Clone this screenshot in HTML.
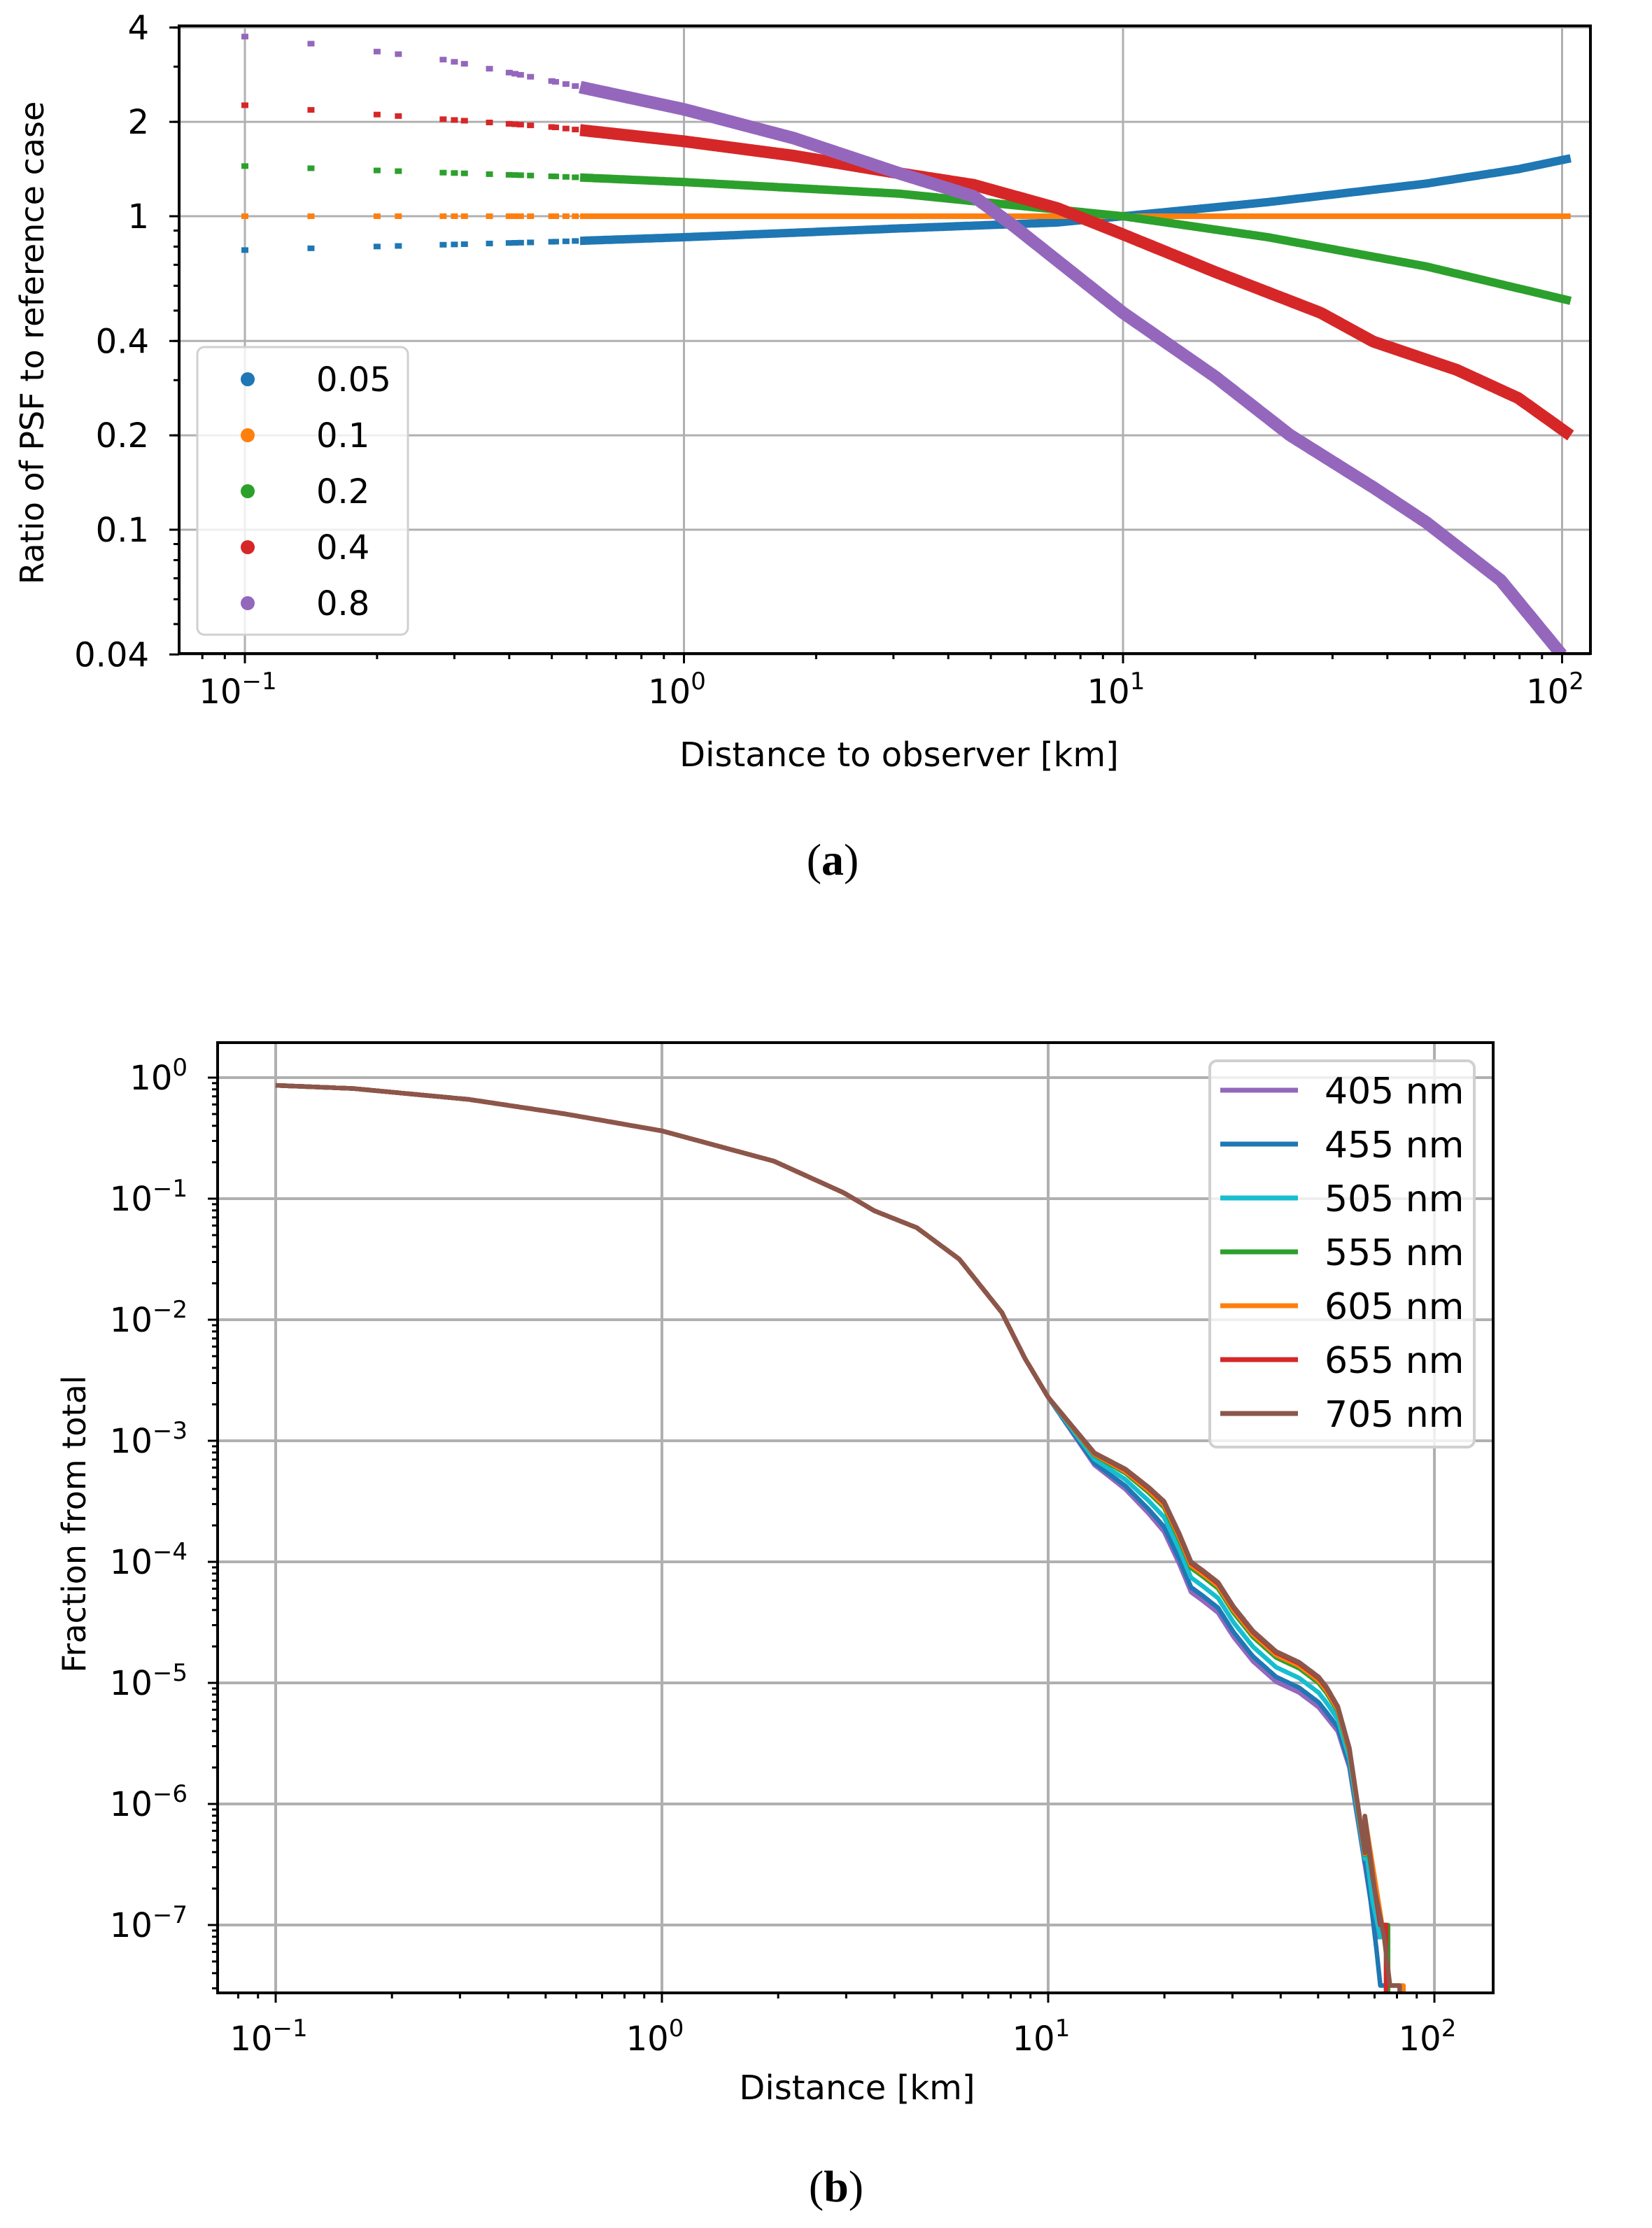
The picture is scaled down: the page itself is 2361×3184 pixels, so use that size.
<!DOCTYPE html>
<html><head><meta charset="utf-8">
<style>
html,body{margin:0;padding:0;background:#fff;}
svg{display:block;}
text{font-family:"DejaVu Sans","Liberation Sans",sans-serif;fill:#000;}
.ser{font-family:"Liberation Serif","DejaVu Serif",serif;}
</style></head>
<body>
<svg id="s" width="2361" height="3184" viewBox="0 0 2361 3184" xmlns="http://www.w3.org/2000/svg">
<rect width="2361" height="3184" fill="#fff"/>
<g id="ga"></g>
<g id="gb"></g>
<text x="1190" y="1250" font-size="64" text-anchor="middle" class="ser">(<tspan font-weight="bold">a</tspan>)</text>
<text x="1195" y="3146" font-size="64" text-anchor="middle" class="ser">(<tspan font-weight="bold">b</tspan>)</text>
</svg>
<script>
var NS="http://www.w3.org/2000/svg";
function el(p,t,a,txt){var e=document.createElementNS(NS,t);for(var k in a)e.setAttribute(k,a[k]);if(txt!==undefined)e.textContent=txt;p.appendChild(e);return e;}
function interp(pts,u){if(u<=pts[0][0])return pts[0][1];for(var i=1;i<pts.length;i++){if(u<=pts[i][0]){var a=pts[i-1],b=pts[i];return a[1]+(b[1]-a[1])*(u-a[0])/(b[0]-a[0]);}}return pts[pts.length-1][1];}
function log10(x){return Math.log(x)/Math.LN10;}

/* ---------- Plot A ---------- */
(function(){
var g=document.getElementById("ga");
var L=256,R=2273,T=37,B=934;
function X(u){return 350+(u+1)*627.5;}
function Y(v){return 309-v*448;}
[-1,0,1,2].forEach(function(u){el(g,"line",{x1:X(u),x2:X(u),y1:T,y2:B,stroke:"#b0b0b0","stroke-width":3});});
[0.04,0.1,0.2,0.4,1,2,4].forEach(function(v){el(g,"line",{x1:L,x2:R,y1:Y(log10(v)),y2:Y(log10(v)),stroke:"#b0b0b0","stroke-width":3});});
var cl=el(g,"clipPath",{id:"ca"});el(cl,"rect",{x:L,y:T,width:R-L,height:B-T});
var dg=el(g,"g",{"clip-path":"url(#ca)"});
var series=[
 {c:"#1f77b4",w:12,p:[[-1,-0.108],[-0.31,-0.082],[0,-0.067],[0.49,-0.039],[0.85,-0.02],[1,0],[1.33,0.045],[1.69,0.104],[1.9,0.15],[2.02,0.185]]},
 {c:"#ff7f0e",w:8,p:[[-1,0],[2.02,0]]},
 {c:"#2ca02c",w:12,p:[[-1,0.16],[-0.31,0.128],[0,0.109],[0.49,0.072],[1,0],[1.33,-0.067],[1.69,-0.16],[1.9,-0.23],[2.02,-0.27]]},
 {c:"#d62728",w:17,p:[[-1,0.354],[-0.31,0.286],[0,0.239],[0.25,0.193],[0.49,0.137],[0.66,0.1],[0.85,0.026],[1,-0.058],[1.21,-0.178],[1.45,-0.308],[1.57,-0.4],[1.76,-0.49],[1.9,-0.58],[2.02,-0.70]]},
 {c:"#9467bd",w:18,p:[[-1,0.573],[-0.84,0.549],[-0.55,0.5],[-0.31,0.434],[0,0.341],[0.25,0.249],[0.49,0.137],[0.66,0.063],[0.75,-0.03],[1,-0.308],[1.21,-0.512],[1.38,-0.698],[1.57,-0.865],[1.69,-0.976],[1.86,-1.161],[2,-1.40]]}
];
var ds={};for(var i=0;i<7;i++)for(var j=0;j<7;j++){var d=Math.sqrt(i*i+j*j);if(d>=1&&d<5.8)ds[d.toFixed(4)]=d;}
var dl=Object.keys(ds).map(function(k){return ds[k];});
series.forEach(function(s){
  dl.forEach(function(d){var u=log10(0.1*d);var v=interp(s.p,u);el(dg,"rect",{x:X(u)-5,y:Y(v)-4,width:10,height:8,fill:s.c});});
  var pts=[];for(var u=log10(0.58);u<=(s.p[s.p.length-1][0]);u+=0.004){var v=interp(s.p,u);pts.push(X(u).toFixed(1)+","+Y(v).toFixed(1));}
  el(dg,"polyline",{points:pts.join(" "),fill:"none",stroke:s.c,"stroke-width":s.w,"stroke-linejoin":"round"});
});
el(g,"rect",{x:L,y:T,width:R-L,height:B-T,fill:"none",stroke:"#000","stroke-width":4});
for(var k=-2;k<=2;k++)for(var m=1;m<10;m++){var u=k+log10(m);var x=X(u);if(x<L||x>R)continue;el(g,"line",{x1:x,x2:x,y1:B,y2:B+(m==1?14:8),stroke:"#000","stroke-width":3});}
[-1,0,1,2].forEach(function(u){var t=el(g,"text",{x:X(u)-10,y:1005,"font-size":48,"text-anchor":"middle"},"10");el(t,"tspan",{"font-size":34,dy:-20},u==-1?"\u22121":String(u));});
for(var k=-2;k<=0;k++)for(var m=1;m<10;m++){var v=k+log10(m);var y=Y(v);if(y<T-1||y>B+1)continue;el(g,"line",{x1:L,x2:L-8,y1:y,y2:y,stroke:"#000","stroke-width":3});}
[[0.04,"0.04"],[0.1,"0.1"],[0.2,"0.2"],[0.4,"0.4"],[1,"1"],[2,"2"],[4,"4"]].forEach(function(a){var y=Y(log10(a[0]));el(g,"line",{x1:L,x2:L-14,y1:y,y2:y,stroke:"#000","stroke-width":3});el(g,"text",{x:213,y:y+17,"font-size":48,"text-anchor":"end"},a[1]);});
el(g,"text",{x:0,y:0,"font-size":46,"text-anchor":"middle",transform:"translate(62,490) rotate(-90)"},"Ratio of PSF to reference case");
el(g,"text",{x:1285,y:1095,"font-size":48,"text-anchor":"middle"},"Distance to observer [km]");
el(g,"rect",{x:282,y:496,width:301,height:411,rx:10,fill:"#fff","fill-opacity":0.8,stroke:"#d0d0d0","stroke-width":3});
var lab=["0.05","0.1","0.2","0.4","0.8"],cols=["#1f77b4","#ff7f0e","#2ca02c","#d62728","#9467bd"];
for(var i=0;i<5;i++){var y=542+i*80;el(g,"circle",{cx:354,cy:y,r:10,fill:cols[i]});el(g,"text",{x:452,y:y+17,"font-size":48},lab[i]);}
})();

/* ---------- Plot B ---------- */
(function(){
var g=document.getElementById("gb");
var L=311,R=2134,T=1490,B=2848;
function X(u){return 394+(u+1)*552;}
function Y(v){return 1540-v*173;}
[-1,0,1,2].forEach(function(u){el(g,"line",{x1:X(u),x2:X(u),y1:T,y2:B,stroke:"#b0b0b0","stroke-width":4});});
for(var k=0;k>=-7;k--)el(g,"line",{x1:L,x2:R,y1:Y(k),y2:Y(k),stroke:"#b0b0b0","stroke-width":4});
var cl=el(g,"clipPath",{id:"cb"});el(cl,"rect",{x:L,y:T,width:R-L,height:B-T});
var dg=el(g,"g",{"clip-path":"url(#cb)"});
var base=[[-1,-0.064],[-0.8,-0.09],[-0.5,-0.18],[-0.25,-0.3],[0,-0.44],[0.29,-0.69],[0.47,-0.95],[0.55,-1.1],[0.66,-1.24],[0.77,-1.5],[0.88,-1.94],[0.94,-2.32],[1.0,-2.64],[1.06,-2.92],[1.12,-3.2],[1.2,-3.4],[1.26,-3.6],[1.30,-3.75],[1.34,-4.02],[1.37,-4.25],[1.40,-4.32],[1.44,-4.42],[1.48,-4.62],[1.53,-4.82],[1.59,-4.99],[1.65,-5.08],[1.70,-5.2],[1.75,-5.4],[1.78,-5.7],[1.80,-6.1],[1.82,-6.5]];
var specs=[
 {c:"#9467bd",o:0,sx:[[1.82,-6.5],[1.835,-6.8],[1.85,-7.1],[1.88,-7.1],[1.88,-8.5]]},
 {c:"#1f77b4",o:0.04,sx:[[1.82,-6.45],[1.835,-6.8],[1.85,-7.2],[1.86,-7.5],[1.875,-7.5],[1.875,-8.5]]},
 {c:"#17becf",o:0.12,sx:[[1.82,-6.3],[1.84,-6.8],[1.86,-7.1],[1.875,-7.1],[1.875,-8.5]]},
 {c:"#2ca02c",o:0.2,sx:[[1.82,-6.2],[1.84,-6.6],[1.86,-7.0],[1.88,-7.0],[1.88,-8.5]]},
 {c:"#ff7f0e",o:0.22,sx:[[1.82,-6.1],[1.85,-6.7],[1.87,-7.1],[1.885,-7.5],[1.92,-7.5],[1.92,-8.5]]},
 {c:"#d62728",o:0.24,sx:[[1.82,-6.1],[1.84,-6.6],[1.86,-7.0],[1.875,-7.0],[1.875,-8.5]]},
 {c:"#8c564b",o:0.25,sx:[[1.82,-6.1],[1.845,-6.7],[1.87,-7.1],[1.885,-7.5],[1.91,-7.5],[1.91,-8.5]]}
];
function ramp(u){if(u<1.0)return 0;if(u<1.3)return (u-1.0)/0.3;if(u<1.72)return 1;if(u<1.82)return 1-(u-1.72)/0.1*0.6;return 0.4;}
specs.forEach(function(s){
  var pts=[];
  for(var u=-1;u<1.82;u+=0.005){var v=interp(base,u)+s.o*ramp(u);pts.push(X(u).toFixed(1)+","+Y(v).toFixed(1));}
  var v0=interp(base,1.82)+s.o*0.4;
  pts.push(X(1.82).toFixed(1)+","+Y(v0).toFixed(1));
  s.sx.forEach(function(p){pts.push(X(p[0]).toFixed(1)+","+Y(p[1]).toFixed(1));});
  el(dg,"polyline",{points:pts.join(" "),fill:"none",stroke:s.c,"stroke-width":6.5,"stroke-linejoin":"round"});
});
el(g,"rect",{x:L,y:T,width:R-L,height:B-T,fill:"none",stroke:"#000","stroke-width":4});
for(var k=-2;k<=2;k++)for(var m=1;m<10;m++){var u=k+log10(m);var x=X(u);if(x<L||x>R)continue;el(g,"line",{x1:x,x2:x,y1:B,y2:B+(m==1?14:8),stroke:"#000","stroke-width":3});}
[-1,0,1,2].forEach(function(u){var t=el(g,"text",{x:X(u)-10,y:2930,"font-size":48,"text-anchor":"middle"},"10");el(t,"tspan",{"font-size":34,dy:-20},u==-1?"\u22121":String(u));});
for(var k=-8;k<=0;k++)for(var m=1;m<10;m++){var v=k+log10(m);var y=Y(v);if(y<T||y>B)continue;el(g,"line",{x1:L,x2:L-(m==1?14:8),y1:y,y2:y,stroke:"#000","stroke-width":3});}
for(var k=0;k>=-7;k--){var t=el(g,"text",{x:268,y:Y(k)+17,"font-size":48,"text-anchor":"end"},"10");el(t,"tspan",{"font-size":34,dy:-20},k==0?"0":"\u2212"+(-k));}
el(g,"text",{x:0,y:0,"font-size":46,"text-anchor":"middle",transform:"translate(122,2178) rotate(-90)"},"Fraction from total");
el(g,"text",{x:1225,y:3000,"font-size":48,"text-anchor":"middle"},"Distance [km]");
el(g,"rect",{x:1729,y:1516,width:378,height:552,rx:10,fill:"#fff","fill-opacity":0.8,stroke:"#d0d0d0","stroke-width":4});
var lab=["405 nm","455 nm","505 nm","555 nm","605 nm","655 nm","705 nm"],cols=["#9467bd","#1f77b4","#17becf","#2ca02c","#ff7f0e","#d62728","#8c564b"];
for(var i=0;i<7;i++){var y=1558+i*77;el(g,"line",{x1:1744,x2:1855,y1:y,y2:y,stroke:cols[i],"stroke-width":7});el(g,"text",{x:1893,y:y+19,"font-size":52},lab[i]);}
})();
</script>
</body></html>
